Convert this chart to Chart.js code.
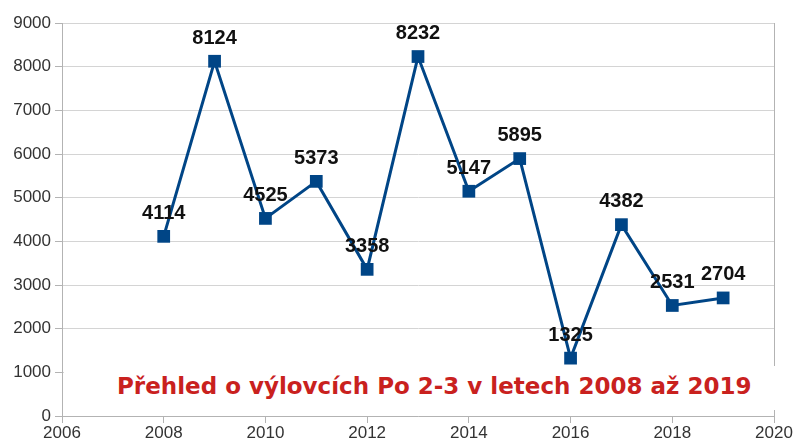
<!DOCTYPE html>
<html>
<head>
<meta charset="utf-8">
<script src="https://cdn.jsdelivr.net/npm/chart.js@4/dist/chart.umd.min.js"></script>
<style>
  html, body { margin: 0; padding: 0; background: #fff; }
  #wrap { position: relative; width: 795px; height: 447px; }
  #title {
    position: absolute; left: 64px; top: 366px; width: 720px; height: 44px;
    background: #fff; box-sizing: border-box; padding-left: 53px;
    font-family: "DejaVu Sans", sans-serif; font-weight: bold; font-size: 23px;
    color: #c9211e; line-height: 40px; white-space: nowrap;
  }
</style>
</head>
<body>
<div id="wrap">
  <canvas id="c" width="795" height="447"></canvas>
  <div id="title">Přehled o výlovcích Po 2-3 v letech 2008 až 2019</div>
</div>
<script>
const years = [2008, 2009, 2010, 2011, 2012, 2013, 2014, 2015, 2016, 2017, 2018, 2019];
const catches = [4114, 8124, 4525, 5373, 3358, 8232, 5147, 5895, 1325, 4382, 2531, 2704];
const xTicks = [2006, 2008, 2010, 2012, 2014, 2016, 2018, 2020];
const yTicks = [0, 1000, 2000, 3000, 4000, 5000, 6000, 7000, 8000, 9000];

const labelPlugin = {
  id: 'valueLabels',
  afterDatasetsDraw(chart) {
    const ctx = chart.ctx;
    const meta = chart.getDatasetMeta(0);
    ctx.save();
    ctx.font = 'bold 20px "Liberation Sans", Arial, sans-serif';
    ctx.fillStyle = '#111';
    ctx.textAlign = 'center';
    ctx.textBaseline = 'middle';
    meta.data.forEach((pt, i) => {
      ctx.fillText(String(catches[i]), pt.x, pt.y - 23);
    });
    ctx.restore();
  }
};

new Chart(document.getElementById('c'), {
  type: 'line',
  data: {
    datasets: [{
      data: years.map((y, i) => ({ x: y, y: catches[i] })),
      borderColor: '#004586',
      backgroundColor: '#004586',
      borderWidth: 3,
      pointStyle: 'rect',
      pointRadius: 9,
      pointHoverRadius: 9,
      pointBorderWidth: 0,
      tension: 0
    }]
  },
  options: {
    responsive: false,
    animation: false,
    layout: { padding: { top: 23, right: 21, left: 0, bottom: 0 } },
    plugins: { legend: { display: false }, tooltip: { enabled: false } },
    scales: {
      x: {
        type: 'linear', min: 2006, max: 2020,
        afterBuildTicks: s => { s.ticks = xTicks.map(v => ({ value: v })); },
        afterFit: s => { s.height = 31; },
        border: { color: '#b3b3b3', width: 1 },
        grid: {
          drawOnChartArea: true,
          color: c => (c.tick && c.tick.value === 2020) ? '#b3b3b3' : 'rgba(0,0,0,0)',
          tickColor: '#b3b3b3', tickLength: 7
        },
        ticks: {
          color: '#333', padding: 0,
          font: { family: '"Liberation Sans", Arial, sans-serif', size: 17 },
          callback: v => String(v)
        }
      },
      y: {
        min: 0, max: 9000,
        afterBuildTicks: s => { s.ticks = yTicks.map(v => ({ value: v })); },
        afterFit: s => { s.width = 62; },
        border: { color: '#b3b3b3', width: 1 },
        grid: { color: '#d4d4d4', tickColor: '#b3b3b3', tickLength: 7 },
        ticks: {
          color: '#333', padding: 4,
          font: { family: '"Liberation Sans", Arial, sans-serif', size: 17 },
          callback: v => String(v)
        }
      }
    }
  },
  plugins: [labelPlugin]
});
</script>
</body>
</html>
